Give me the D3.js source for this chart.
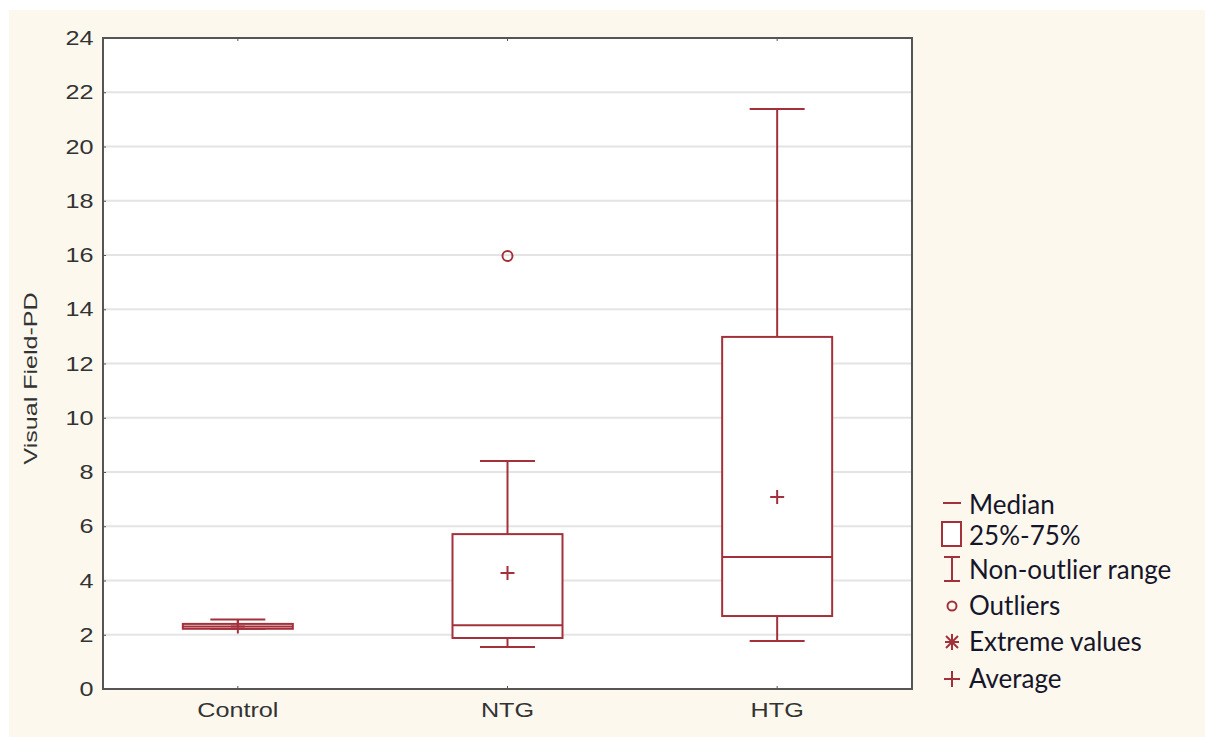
<!DOCTYPE html>
<html>
<head>
<meta charset="utf-8">
<script src="https://cdn.jsdelivr.net/npm/d3@7"></script>
<style>
  body { margin: 0; background: #fff; }
  svg { display: block; }
</style>
</head>
<body>
<svg id="chart" width="1206" height="737"></svg>
<script>
"use strict";

// data
const groups = ["Control", "NTG", "HTG"];
const q1 = [2.22, 1.88, 2.69];
const medians = [2.3, 2.35, 4.87];
const q3 = [2.4, 5.71, 12.98];
const whiskerLow = [2.22, 1.55, 1.77];
const whiskerHigh = [2.56, 8.41, 21.38];
const means = [2.3, 4.28, 7.08];
const outliers = [[], [15.96], []];
const yTicks = d3.range(0, 25, 2);
const legendItems = ["Median", "25%-75%", "Non-outlier range", "Outliers", "Extreme values", "Average"];

const RED = "#a3313b";
const width = 1206, height = 737;
const margin = {left: 103, top: 38, right: 912, bottom: 689};

const svg = d3.select("#chart");

// beige page
svg.append("rect")
    .attr("x", 9).attr("y", 10)
    .attr("width", width - 10).attr("height", height - 10)
    .attr("fill", "#fdf8ee");

svg.append("rect")
    .attr("x", margin.left).attr("y", margin.top)
    .attr("width", margin.right - margin.left)
    .attr("height", margin.bottom - margin.top)
    .attr("fill", "#fff");

const x = d3.scaleBand()
    .domain(groups)
    .range([margin.left, margin.right])
    .padding(0);

const y = d3.scaleLinear()
    .domain([0, 24])
    .range([margin.bottom, margin.top]);

const boxW = 110, capW = 55;

// grid
svg.append("g").selectAll("line")
    .data(yTicks.filter(d => d > 0 && d < 24))
    .enter().append("line")
    .attr("x1", margin.left).attr("x2", margin.right)
    .attr("y1", d => y(d)).attr("y2", d => y(d))
    .attr("stroke", "#e4e4e4").attr("stroke-width", 2);

// y axis
const yAxis = svg.append("g")
    .attr("transform", `translate(${margin.left},0)`)
    .call(d3.axisLeft(y).tickValues(yTicks).tickSize(-3).tickPadding(8));
yAxis.select(".domain").remove();
yAxis.selectAll(".tick line").attr("stroke", "#555");
yAxis.selectAll("text")
    .attr("font-family", "'Liberation Sans', Arial, sans-serif")
    .attr("font-size", 21)
    .attr("transform", "scale(1.2,1)")
    .attr("fill", "#333");

// x axis
const xAxis = svg.append("g")
    .attr("transform", `translate(0,${margin.bottom})`)
    .call(d3.axisBottom(x).tickSize(-3).tickPadding(13));
xAxis.select(".domain").remove();
xAxis.selectAll(".tick line").attr("stroke", "#555");
xAxis.selectAll("text")
    .attr("font-family", "'Liberation Sans', Arial, sans-serif")
    .attr("font-size", 21)
    .attr("transform", "scale(1.2,1)")
    .attr("fill", "#333");

// top ticks
svg.append("g").selectAll("line")
    .data(groups)
    .enter().append("line")
    .attr("x1", d => x(d) + x.bandwidth() / 2).attr("x2", d => x(d) + x.bandwidth() / 2)
    .attr("y1", margin.top).attr("y2", margin.top + 3)
    .attr("stroke", "#555");

// frame
svg.append("rect")
    .attr("x", margin.left).attr("y", margin.top)
    .attr("width", margin.right - margin.left)
    .attr("height", margin.bottom - margin.top)
    .attr("fill", "none").attr("stroke", "#555").attr("stroke-width", 2);

svg.append("text")
    .attr("transform", `translate(37,${(margin.top + margin.bottom) / 2 + 15}) rotate(-90)`)
    .attr("text-anchor", "middle")
    .attr("font-family", "'Liberation Sans', Arial, sans-serif")
    .attr("font-size", 19)
    .attr("textLength", 172)
    .attr("lengthAdjust", "spacingAndGlyphs")
    .attr("fill", "#333")
    .text("Visual Field-PD");

// boxes
const boxes = svg.append("g").selectAll("g")
    .data(groups)
    .enter().append("g")
    .attr("stroke", RED).attr("stroke-width", 2).attr("fill", "none");

boxes.each(function(g, i) {
    const el = d3.select(this);
    const cx = x(g) + x.bandwidth() / 2;
    el.append("line").attr("x1", cx).attr("x2", cx)
        .attr("y1", y(q3[i])).attr("y2", y(whiskerHigh[i]));
    el.append("line").attr("x1", cx).attr("x2", cx)
        .attr("y1", y(q1[i])).attr("y2", y(whiskerLow[i]));
    el.append("line").attr("x1", cx - capW / 2).attr("x2", cx + capW / 2)
        .attr("y1", y(whiskerHigh[i])).attr("y2", y(whiskerHigh[i]));
    el.append("line").attr("x1", cx - capW / 2).attr("x2", cx + capW / 2)
        .attr("y1", y(whiskerLow[i])).attr("y2", y(whiskerLow[i]));
    el.append("rect")
        .attr("x", cx - boxW / 2).attr("width", boxW)
        .attr("y", y(q3[i])).attr("height", y(q1[i]) - y(q3[i]))
        .attr("fill", "#fff");
    el.append("line").attr("x1", cx - boxW / 2).attr("x2", cx + boxW / 2)
        .attr("y1", y(medians[i])).attr("y2", y(medians[i]));
    const my = y(means[i]);
    el.append("path").attr("d", `M${cx - 7},${my}H${cx + 7}M${cx},${my - 7}V${my + 7}`);
    outliers[i].forEach(v => {
        el.append("circle").attr("cx", cx).attr("cy", y(v)).attr("r", 5);
    });
});

// legend
const legY = [505, 536, 570, 606, 642, 679];
const leg = svg.append("g");
legendItems.forEach((t, i) => {
    const yy = legY[i];
    const sx = 952;
    const s = leg.append("g").attr("stroke", RED).attr("stroke-width", 2).attr("fill", "none");
    if (i === 0) s.append("line").attr("x1", sx - 9).attr("x2", sx + 9).attr("y1", yy - 2).attr("y2", yy - 2);
    if (i === 1) s.append("rect").attr("x", sx - 10).attr("y", yy - 14).attr("width", 19).attr("height", 24).attr("fill", "#fff");
    if (i === 2) s.append("path").attr("d", `M${sx - 8},${yy - 13}H${sx + 8}M${sx},${yy - 13}V${yy + 11}M${sx - 8},${yy + 11}H${sx + 8}`);
    if (i === 3) s.append("circle").attr("cx", sx).attr("cy", yy).attr("r", 4.5);
    if (i === 4) s.append("path")
        .attr("d", `M${sx - 7},${yy}H${sx + 7}M${sx},${yy - 8}V${yy + 8}M${sx - 6},${yy - 6}L${sx + 6},${yy + 6}M${sx - 6},${yy + 6}L${sx + 6},${yy - 6}`);
    if (i === 5) s.append("path").attr("d", `M${sx - 8},${yy}H${sx + 8}M${sx},${yy - 8}V${yy + 8}`);
    leg.append("text")
        .attr("x", 969).attr("y", yy + 9)
        .attr("font-family", "Lato, 'Open Sans', sans-serif")
        .attr("font-size", 26)
        .attr("fill", "#16162a")
        .text(t);
});
</script>
</body>
</html>
